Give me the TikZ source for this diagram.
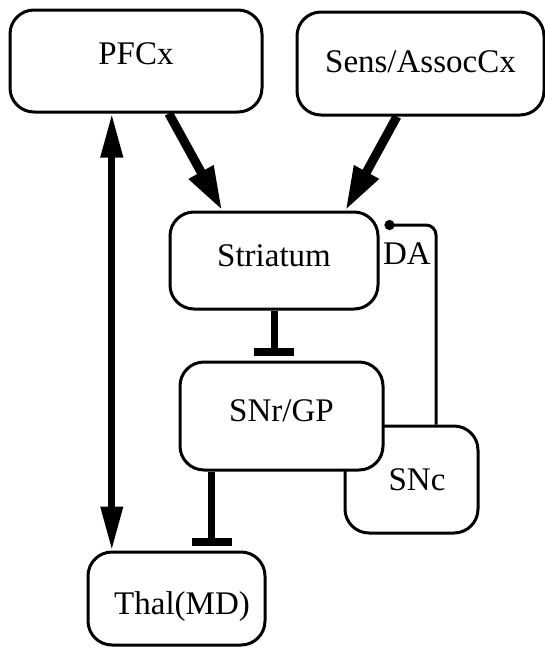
\documentclass[tikz,border=0pt]{standalone}
\usepackage{fontspec}
\setmainfont{Liberation Serif}
\usetikzlibrary{arrows.meta,calc}
\tikzset{bx/.style={draw,line width=1.5pt,rounded corners=12pt,fill=white,inner sep=0pt,font=\fontsize{16.5}{19}\selectfont},
 ex/.style={line width=4.5pt,-{Triangle[length=22pt,width=13pt]}},
 dex/.style={line width=3.5pt,{Triangle[length=22pt,width=10.5pt]}-{Triangle[length=22pt,width=10.5pt]}},
 inh/.style={line width=3.5pt,-{Bar[width=20pt,line width=4pt]},shorten >=2.5pt},
 dal/.style={line width=1.5pt,rounded corners=5pt,-{Circle[length=5pt]}},
 lb/.style={font=\fontsize{16.5}{19}\selectfont,inner sep=0pt}}
\begin{document}
\begin{tikzpicture}[x=0.5pt,y=-0.5pt]
\useasboundingbox (0,0) rectangle (545,648);
\node[bx,minimum width=126pt,minimum height=51pt,text depth=7pt](pfc) at (136,61){PFCx\hspace{11pt}};
\node[bx,minimum width=123.5pt,minimum height=51.5pt,text depth=2pt](sens) at (420.5,63.5){Sens/AssocCx};
\node[bx,minimum width=104pt,minimum height=48.5pt,text depth=5pt](str) at (274,260.5){Striatum};
\node[bx,minimum width=66.5pt,minimum height=53.5pt](snc) at (411.5,479.5){\hspace{5.5pt}SNc};
\node[bx,minimum width=101.5pt,minimum height=54pt,text depth=5pt](snr) at (281.5,416){SNr/GP};
\node[bx,minimum width=88.5pt,minimum height=46.5pt,text height=15.9pt,text depth=0pt](thal) at (176.5,598.5){\hspace{5.5pt}Thal(MD)};
\node[lb](dalab) at (407,254){DA};
% cortex to striatum
\draw[ex](pfc.-58)--(str.136);\draw[ex](sens.-114)--(str.35.5);
\draw[dex]($(pfc.south west)!.405!(pfc.south east)$) coordinate(tl)--(tl |- thal.north);
% inhibition
\draw[inh](str.south)--(str.south |- snr.north);
\draw[inh]($(snr.south west)+(33,0)$) coordinate(sl)--(sl |- thal.north);
% dopamine
\draw[dal]($(snc.north)+(24.5,0)$)|-($(str.east)+(5,-35.5)$);
\end{tikzpicture}
\end{document}
